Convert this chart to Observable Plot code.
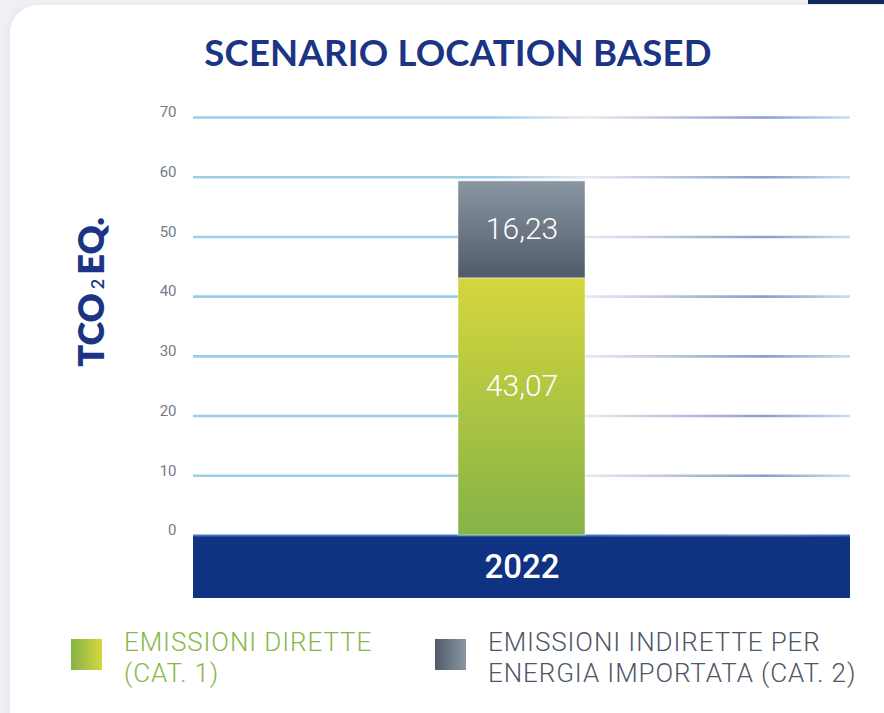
<!DOCTYPE html>
<html>
<head>
<meta charset="utf-8">
<script src="https://cdn.jsdelivr.net/npm/d3@7"></script>
<script src="https://cdn.jsdelivr.net/npm/@observablehq/plot@0.6"></script>
<style>
  html, body { margin: 0; padding: 0; }
  body { width: 884px; height: 713px; background: #eef0f3; position: relative; overflow: hidden; font-family: Roboto, "Noto Sans", sans-serif; }
  #tab { position: absolute; left: 808px; top: 0; width: 90px; height: 4px; background: #0f2a5e; }
  #card { position: absolute; left: 10px; top: 5px; width: 900px; height: 740px; background: #fff; border-radius: 28px; box-shadow: -2px 0 6px rgba(0,0,0,0.04); }
  #title { position: absolute; left: 0; top: 30px; width: 916px; text-align: center; font-family: Lato, sans-serif; font-weight: 700; font-size: 36.5px; color: #1b3484; letter-spacing: 0.2px; }
  #ylabel { position: absolute; left: 90px; top: 292px; transform: translate(-50%, -50%) rotate(-90deg); white-space: nowrap; font-family: Lato, sans-serif; font-weight: 800; font-size: 36px; color: #1b3484; }
  #ylabel .sub { font-size: 18px; font-weight: 600; margin: 0 4px; vertical-align: 0; }
  #chart { position: absolute; left: 0; top: 90px; }
  .leg { position: absolute; top: 627px; display: flex; align-items: flex-start; }
  .sw { width: 31px; height: 31px; margin-top: 12px; flex: none; }
  .lt { font-size: 26px; font-weight: 300; line-height: 31px; letter-spacing: 0.9px; white-space: nowrap; }
</style>
</head>
<body>
<div id="tab"></div>
<div id="card"></div>
<div id="title"></div>
<div id="ylabel"></div>
<div id="chart"></div>
<div id="legend"></div>
<script>
// ---- data ----
const years = ["2022"];
const seriesNames = ["EMISSIONI DIRETTE (CAT. 1)", "EMISSIONI INDIRETTE PER ENERGIA IMPORTATA (CAT. 2)"];
const legendLines = [["EMISSIONI DIRETTE", "(CAT. 1)"], ["EMISSIONI INDIRETTE PER", "ENERGIA IMPORTATA (CAT. 2)"]];
const values2022 = [43.07, 16.23];
const valueLabels = ["43,07", "16,23"];
const yTicks = [0, 10, 20, 30, 40, 50, 60, 70];
const titleText = "SCENARIO LOCATION BASED";

// ---- style ----
const W = 884, H = 520, mL = 193, mR = 34, mT = 27, mB = 12;
const yMin = -10.55;             // space for the year band under zero
const labelFrac = [0.58, 0.5];   // where value labels sit inside each segment
const gradIds = ["gGreen", "gGray"];
const textColors = ["#86b846", "#4d5666"];

document.getElementById("title").textContent = titleText;
document.getElementById("ylabel").innerHTML = 'TCO<span class="sub">2</span>EQ.';

const bases = [0, ...d3.cumsum(values2022)].slice(0, values2022.length);
const rows = seriesNames.map((s, i) => ({
  year: years[0], series: s, value: values2022[i], y1: bases[i], y2: bases[i] + values2022[i],
  label: valueLabels[i], ly: bases[i] + values2022[i] * labelFrac[i]
}));

const plot = Plot.plot({
  width: W, height: H,
  marginLeft: mL, marginRight: mR, marginTop: mT, marginBottom: mB,
  style: { fontFamily: "Roboto, sans-serif", background: "transparent" },
  x: { type: "band", domain: years, padding: 0.676, axis: null },
  y: { domain: [yMin, 70], label: null },
  color: { domain: seriesNames, range: gradIds.map(id => `url(#${id})`) },
  marks: [
    Plot.axisY({ ticks: yTicks, tickSize: 0, tickPadding: 17, fontSize: 15, fill: "#747b87", dy: -5, label: null, tickFormat: d => String(d) }),
    Plot.ruleY(yTicks.filter(d => d > 0), { stroke: "url(#gGrid)", strokeWidth: 2.6 }),
    Plot.rect([0], { y1: 0, y2: yMin, fill: "#0f3282" }),
    Plot.ruleY([0], { stroke: "url(#gZero)", strokeWidth: 2 }),
    Plot.barY(rows, { x: "year", y1: "y1", y2: "y2", fill: "series", stroke: "rgba(255,255,255,0.45)", strokeWidth: 1 }),
    Plot.text(rows, { x: "year", y: "ly", text: "label", fill: "white", fontSize: 30, fontWeight: 300 }),
    Plot.text(years, { x: d => d, y: yMin / 2, text: d => d, fill: "white", fontSize: 33, fontWeight: 500 })
  ]
});

// gradients
const svg = d3.select(plot);
const defs = svg.insert("defs", ":first-child");
function grad(id, stops, attrs) {
  const g = defs.append("linearGradient").attr("id", id);
  Object.entries(attrs).forEach(([k, v]) => g.attr(k, v));
  stops.forEach(([o, c]) => g.append("stop").attr("offset", o).attr("stop-color", c));
}
grad("gGreen", [[0, "#d5d63d"], [1, "#85b347"]], { x1: 0, y1: 0, x2: 0, y2: 1 });
grad("gGray", [[0, "#8b96a3"], [1, "#505a69"]], { x1: 0, y1: 0, x2: 0, y2: 1 });
grad("gGrid", [[0, "#9dcbe8"], [0.45, "#9dcbe8"], [0.6, "#e6e9f2"], [0.87, "#8b9dc9"], [1, "#c6e0f2"]],
  { gradientUnits: "userSpaceOnUse", x1: mL, y1: 0, x2: W - mR, y2: 0 });
grad("gZero", [[0, "#3f78c2"], [0.6, "#3f78c2"], [0.85, "#6b82bd"], [1, "#3f6cb8"]],
  { gradientUnits: "userSpaceOnUse", x1: mL, y1: 0, x2: W - mR, y2: 0 });
document.getElementById("chart").appendChild(plot);

// legend
const legend = document.getElementById("legend");
const legLeft = [71, 435];
const swatchGrad = ["linear-gradient(to right, #85b347, #d5d63d)", "linear-gradient(to right, #505a69, #8b96a3)"];
seriesNames.forEach((s, i) => {
  const item = document.createElement("div");
  item.className = "leg";
  item.style.left = legLeft[i] + "px";
  const sw = document.createElement("div");
  sw.className = "sw";
  sw.style.background = swatchGrad[i];
  const t = document.createElement("div");
  t.className = "lt";
  t.style.color = textColors[i];
  t.style.marginLeft = "22px";
  t.innerHTML = legendLines[i].join("<br>");
  item.appendChild(sw); item.appendChild(t);
  legend.appendChild(item);
});
</script>
</body>
</html>
